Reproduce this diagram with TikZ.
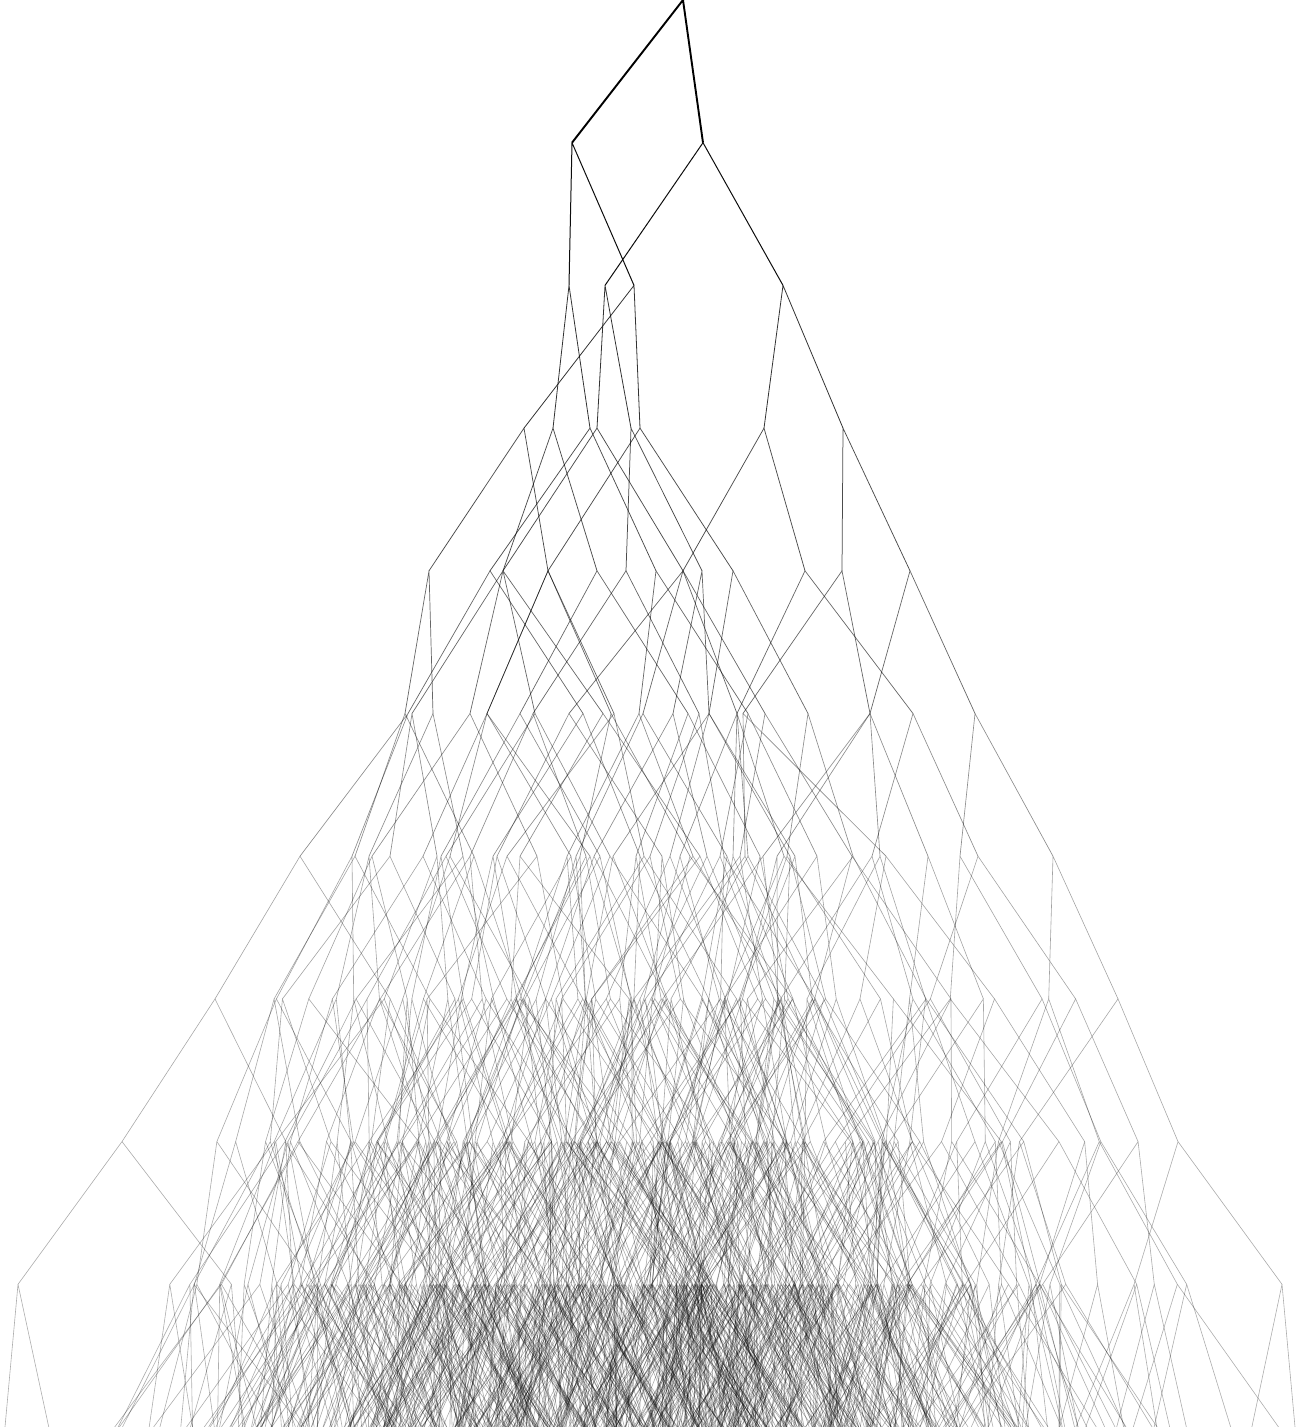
\documentclass[tikz,border=0pt]{standalone}

\tikzset{
    treeedge/.style 2 args={line width=#1pt,draw=black,draw opacity=#2,line join=round}
}
\newcommand{\placelevel}[2]{%
    \foreach \x [count=\i] in {#2} {
        \coordinate (n#1-\i) at (\x,{#1*142.7});
    }
}

\begin{document}
\begin{tikzpicture}[x=1pt,y=-1pt]
    \useasboundingbox (0,0) rectangle (1304,1427);
    \pgfmathsetseed{2024}
    \coordinate (n0-1) at (683,0);

    % levels read off by hand
    \placelevel{1}{572,703}
    \placelevel{2}{569,634,605,783}
    \placelevel{3}{590,553,524,640,597,631,764,843}
    \placelevel{4}{490,656,503,597,429,548,548,733,503,683,626,702,683,805,842,910}
    \placelevel{5}{408,583,639,748,412,470,520,688,405,433,487,611,487,614,709,808,
        535,603,569,737,533,699,673,709,643,765,737,913,743,870,870,975}
    \placelevel{6}{300,352,493,640,567,693,720,817,390,437,372,537,441,600,636,760,
        355,474,369,463,423,571,580,690,450,590,507,644,670,795,787,853,
        446,610,520,700,497,662,733,784,470,586,650,724,594,707,613,790,
        576,727,740,852,680,748,872,978,745,886,763,928,777,880,960,1053}

    % deeper levels are random, only the outer two branches are fixed
    \foreach \lev/\num/\hl/\hr in {6/64/-85/65, 7/128/-93/60, 8/256/-104/104, 9/512/-13/13} {
        \pgfmathtruncatemacro\nxt{\lev+1}
        \foreach \i in {1,...,\num} {
            \pgfmathtruncatemacro\kidl{2*\i-1}
            \pgfmathtruncatemacro\kidr{2*\i}
            \pgfmathsetmacro\dl{-110*rnd}
            \pgfmathsetmacro\dr{110*rnd}
            \ifnum\i=1 \let\dl\hl \fi
            \ifnum\i=\num \let\dr\hr \fi
            \path (n\lev-\i) ++(\dl,142.7) coordinate (n\nxt-\kidl);
            \path (n\lev-\i) ++(\dr,142.7) coordinate (n\nxt-\kidr);
        }
    }

    % draw edges, thinner and paler going down
    \foreach \lev/\num/\wid/\opa in {0/1/1.9/1, 1/2/1.0/.95, 2/4/.8/.8, 3/8/.75/.7, 4/16/.7/.6,
        5/32/.65/.45, 6/64/.6/.36, 7/128/.6/.34, 8/256/.6/.33, 9/512/.6/.32} {
        \pgfmathtruncatemacro\nxt{\lev+1}
        \foreach \i in {1,...,\num} {
            \pgfmathtruncatemacro\kidl{2*\i-1}
            \pgfmathtruncatemacro\kidr{2*\i}
            \draw[treeedge={\wid}{\opa}] (n\nxt-\kidl) -- (n\lev-\i) -- (n\nxt-\kidr);
        }
    }
\end{tikzpicture}
\end{document}
